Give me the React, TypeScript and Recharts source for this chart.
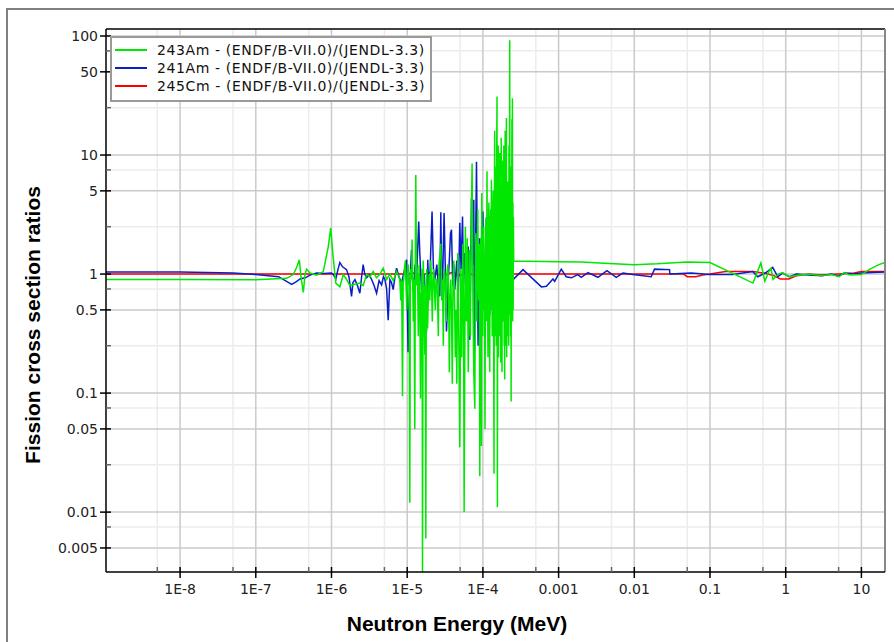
import { LineChart, Line, XAxis, YAxis, CartesianGrid, ReferenceLine, Label } from 'recharts'

const W = 894
const H = 642
const Y_AXIS_W = 60
const X_AXIS_H = 40
const MARGIN = { top: 29, right: 9, bottom: 30, left: 46 }
const PLOT_L = MARGIN.left + Y_AXIS_W
const PLOT_B = H - MARGIN.bottom - X_AXIS_H

const X_DOMAIN = [1.05e-9, 20.5]
const Y_DOMAIN = [0.00314, 114.5]

const X_MAJOR = [1e-8, 1e-7, 1e-6, 1e-5, 1e-4, 0.001, 0.01, 0.1, 1, 10]
const X_LABELS = ['1E-8', '1E-7', '1E-6', '1E-5', '1E-4', '0.001', '0.01', '0.1', '1', '10']
const X_MINOR = [5e-9, 5e-8, 5e-7, 5e-6, 5e-5, 5e-4, 0.005, 0.05, 0.5, 5]
const Y_MAJOR = [100, 50, 10, 5, 1, 0.5, 0.1, 0.05, 0.01, 0.005]
const Y_LABELS = ['100', '50', '10', '5', '1', '0.5', '0.1', '0.05', '0.01', '0.005']
const Y_MINOR = [75, 25, 7.5, 2.5, 0.75, 0.25, 0.075, 0.025, 0.0075]

const SERIES_NAMES = [
  '243Am - (ENDF/B-VII.0)/(JENDL-3.3)',
  '241Am - (ENDF/B-VII.0)/(JENDL-3.3)',
  '245Cm - (ENDF/B-VII.0)/(JENDL-3.3)',
]
const SERIES_COLORS = ['#00e800', '#0a1ec4', '#ff0000']

// [energy MeV, ratio]
const AM243: [number, number][] = [
  [1.05e-9, 0.9], [1e-8, 0.9], [1e-7, 0.895], [2.56e-7, 0.92], [3.13e-7, 0.99], [3.47e-7, 1.14],
  [3.76e-7, 1.32], [3.95e-7, 0.95], [4.24e-7, 0.7], [4.47e-7, 1.0], [4.7e-7, 1.1], [5.2e-7, 1.02],
  [6.37e-7, 0.98], [7.79e-7, 1.05], [9.07e-7, 1.7], [9.76e-7, 2.44], [1.05e-6, 1.4], [1.14e-6, 0.84],
  [1.29e-6, 0.78], [1.43e-6, 0.99], [1.58e-6, 0.9], [1.75e-6, 0.8], [2.04e-6, 0.82], [2.37e-6, 0.84],
  [2.62e-6, 0.8], [2.91e-6, 0.99], [3.22e-6, 0.95], [3.56e-6, 1.05], [3.94e-6, 0.93], [4.36e-6, 1.0],
  [4.82e-6, 1.12], [5.35e-6, 0.9], [5.91e-6, 1.0], [6.53e-6, 0.88], [7.24e-6, 1.05], [7.98e-6, 0.9],
  [8.23e-6, 0.6], [8.45e-6, 0.9], [8.67e-6, 0.094], [8.85e-6, 0.85], [9.02e-6, 0.9], [9.25e-6, 1.15],
  [9.44e-6, 1.3], [9.65e-6, 0.8], [9.88e-6, 0.5], [1.01e-5, 1.0], [1.034e-5, 1.2], [1.06e-5, 0.7],
  [1.082e-5, 0.012], [1.1e-5, 0.8], [1.116e-5, 1.1], [1.14e-5, 0.9], [1.161e-5, 1.95], [1.18e-5, 1.0],
  [1.204e-5, 0.4], [1.23e-5, 0.9], [1.26e-5, 0.05], [1.28e-5, 1.2], [1.299e-5, 6.8], [1.32e-5, 1.5],
  [1.339e-5, 0.8], [1.37e-5, 1.0], [1.402e-5, 0.3], [1.435e-5, 1.2], [1.467e-5, 0.7], [1.499e-5, 0.09],
  [1.525e-5, 0.7], [1.55e-5, 0.6], [1.575e-5, 1.1], [1.593e-5, 0.0031], [1.625e-5, 1.3], [1.657e-5, 0.9],
  [1.708e-5, 0.21], [1.735e-5, 0.8], [1.761e-5, 0.006], [1.79e-5, 0.9], [1.815e-5, 1.1], [1.86e-5, 0.35],
  [1.9e-5, 0.6], [1.95e-5, 1.0], [1.989e-5, 0.6], [2.05e-5, 1.3], [2.1e-5, 0.8], [2.146e-5, 0.4],
  [2.2e-5, 1.0], [2.246e-5, 1.1], [2.3e-5, 0.7], [2.351e-5, 0.5], [2.4e-5, 0.9], [2.46e-5, 0.9],
  [2.52e-5, 0.6], [2.576e-5, 0.3], [2.63e-5, 1.2], [2.696e-5, 1.4], [2.78e-5, 1.8], [2.864e-5, 0.6],
  [2.93e-5, 0.9], [2.999e-5, 0.25], [3.07e-5, 1.1], [3.139e-5, 1.0], [3.21e-5, 0.7], [3.286e-5, 0.4],
  [3.36e-5, 1.0], [3.439e-5, 1.2], [3.52e-5, 0.8], [3.6e-5, 0.15], [3.68e-5, 0.6], [3.767e-5, 0.9],
  [3.85e-5, 0.5], [3.943e-5, 0.12], [4.03e-5, 0.9], [4.127e-5, 1.3], [4.22e-5, 0.6], [4.32e-5, 0.2],
  [4.42e-5, 0.5], [4.52e-5, 0.12], [4.66e-5, 1.5], [4.8e-5, 0.3], [4.95e-5, 0.035], [5.11e-5, 1.1],
  [5.26e-5, 0.2], [5.43e-5, 1.8], [5.55e-5, 0.6], [5.65e-5, 0.01], [5.86e-5, 2.5], [6.07e-5, 0.4],
  [6.22e-5, 2.0], [6.41e-5, 0.15], [6.61e-5, 1.6], [6.82e-5, 0.3], [7.03e-5, 3.0], [7.2e-5, 8.5],
  [7.4e-5, 0.5], [7.58e-5, 0.15], [7.82e-5, 0.074], [7.95e-5, 1.0], [8.06e-5, 2.2], [8.31e-5, 0.4],
  [8.45e-5, 1.5], [8.56e-5, 3.5], [8.7e-5, 0.9], [8.83e-5, 0.6], [8.97e-5, 1.8], [9.1e-5, 0.02],
  [9.25e-5, 1.3], [9.38e-5, 2.0], [9.5e-5, 0.8], [9.58e-5, 0.036], [9.67e-5, 4.8], [9.8e-5, 1.2],
  [9.97e-5, 0.3], [1.012e-4, 1.6], [1.025e-4, 2.5], [1.04e-4, 0.5], [1.052e-4, 1.2], [1.066e-4, 0.05],
  [1.08e-4, 1.4], [1.099e-4, 3.0], [1.115e-4, 0.4], [1.133e-4, 7.3], [1.15e-4, 0.8], [1.168e-4, 0.2],
  [1.185e-4, 2.0], [1.2e-4, 4.0], [1.215e-4, 0.6], [1.23e-4, 0.15], [1.248e-4, 2.4], [1.268e-4, 3.5],
  [1.282e-4, 0.5], [1.295e-4, 6.2], [1.31e-4, 1.0], [1.327e-4, 0.3], [1.345e-4, 2.8], [1.368e-4, 5.0],
  [1.385e-4, 0.4], [1.402e-4, 0.021], [1.417e-4, 3.2], [1.432e-4, 16], [1.447e-4, 0.6], [1.467e-4, 0.3],
  [1.482e-4, 8], [1.499e-4, 0.25], [1.515e-4, 5.5], [1.536e-4, 31], [1.554e-4, 0.011], [1.573e-4, 4.5],
  [1.593e-4, 12], [1.61e-4, 0.2], [1.627e-4, 6], [1.645e-4, 0.35], [1.667e-4, 10.4], [1.688e-4, 0.3],
  [1.708e-4, 7], [1.725e-4, 0.18], [1.745e-4, 14], [1.766e-4, 0.4], [1.788e-4, 0.15], [1.806e-4, 9],
  [1.826e-4, 0.5], [1.848e-4, 6.5], [1.871e-4, 0.4], [1.89e-4, 12], [1.911e-4, 0.25], [1.926e-4, 5],
  [1.941e-4, 0.13], [1.955e-4, 7], [1.97e-4, 16], [1.99e-4, 0.25], [2.013e-4, 9], [2.03e-4, 0.35],
  [2.044e-4, 20.5], [2.065e-4, 0.2], [2.087e-4, 4.5], [2.105e-4, 0.3], [2.126e-4, 6], [2.15e-4, 0.3],
  [2.172e-4, 4], [2.19e-4, 0.25], [2.212e-4, 12], [2.235e-4, 0.5], [2.26e-4, 92], [2.277e-4, 0.45],
  [2.294e-4, 3.5], [2.32e-4, 0.3], [2.344e-4, 8], [2.36e-4, 0.085], [2.379e-4, 5], [2.397e-4, 0.4],
  [2.416e-4, 20], [2.435e-4, 0.6], [2.453e-4, 30], [2.47e-4, 0.4], [2.491e-4, 4], [2.51e-4, 0.5],
  [2.529e-4, 3], [2.552e-4, 1.28], [4e-4, 1.28], [1e-3, 1.27], [2e-3, 1.26], [4e-3, 1.23],
  [1e-2, 1.2], [2e-2, 1.22], [3e-2, 1.24], [5e-2, 1.26], [0.1, 1.25], [0.37, 0.84], [0.47, 1.24],
  [0.53, 0.87], [0.6, 1.05], [0.64, 1.12], [0.68, 0.9], [0.8, 1.0], [0.91, 1.03], [1.1, 0.95],
  [1.5, 0.98], [2, 1.0], [3, 0.97], [4, 0.99], [5.1, 0.95], [5.9, 1.03], [7, 0.98], [10, 0.99],
  [13, 1.1], [17, 1.2], [20.5, 1.25],
]

const AM241: [number, number][] = [
  [1.05e-9, 1.04], [1e-8, 1.04], [5e-8, 1.02], [1e-7, 0.99], [2e-7, 0.95], [2.98e-7, 0.82],
  [3.4e-7, 0.86], [3.84e-7, 0.91], [4.5e-7, 0.93], [5.2e-7, 0.98], [6.37e-7, 1.02], [8e-7, 1.01],
  [1e-6, 1.02], [1.07e-6, 0.98], [1.14e-6, 0.91], [1.22e-6, 1.1], [1.29e-6, 1.25], [1.4e-6, 1.15],
  [1.58e-6, 1.09], [1.7e-6, 0.95], [1.84e-6, 0.65], [1.92e-6, 0.85], [2.04e-6, 0.9], [2.2e-6, 0.8],
  [2.37e-6, 0.69], [2.5e-6, 0.95], [2.62e-6, 1.2], [2.75e-6, 1.0], [2.91e-6, 0.93], [3.15e-6, 0.98],
  [3.39e-6, 0.9], [3.65e-6, 0.8], [3.94e-6, 0.69], [4.25e-6, 0.88], [4.59e-6, 0.81], [4.85e-6, 0.95],
  [5.08e-6, 0.9], [5.35e-6, 0.75], [5.61e-6, 0.41], [5.91e-6, 0.9], [6.2e-6, 0.85], [6.53e-6, 0.74],
  [6.9e-6, 0.95], [7.24e-6, 1.12], [7.8e-6, 0.95], [8.43e-6, 0.84], [9.1e-6, 1.05], [9.82e-6, 1.32],
  [1.028e-5, 0.22], [1.06e-5, 0.6], [1.14e-5, 1.6], [1.18e-5, 0.85], [1.22e-5, 0.7], [1.27e-5, 1.2],
  [1.327e-5, 0.9], [1.42e-5, 2.76], [1.467e-5, 1.5], [1.536e-5, 0.8], [1.593e-5, 0.47], [1.68e-5, 1.0],
  [1.8e-5, 0.33], [1.87e-5, 1.32], [1.93e-5, 0.7], [1.989e-5, 0.9], [2.13e-5, 3.35], [2.22e-5, 1.1],
  [2.315e-5, 0.9], [2.46e-5, 1.2], [2.58e-5, 0.8], [2.696e-5, 0.65], [2.78e-5, 3.3], [2.87e-5, 0.7],
  [2.953e-5, 1.0], [3.07e-5, 3.25], [3.19e-5, 1.1], [3.305e-5, 0.33], [3.49e-5, 0.9], [3.62e-5, 1.4],
  [3.73e-5, 2.2], [3.85e-5, 2.36], [4.0e-5, 0.8], [4.12e-5, 1.2], [4.25e-5, 0.74], [4.52e-5, 1.3],
  [4.72e-5, 0.6], [4.95e-5, 2.7], [5.15e-5, 1.1], [5.38e-5, 3.05], [5.55e-5, 0.79], [5.77e-5, 1.5],
  [6.13e-5, 0.9], [6.4e-5, 1.7], [6.71e-5, 0.28], [7.07e-5, 4.35], [7.36e-5, 1.2], [7.58e-5, 4.2],
  [7.72e-5, 0.22], [8.0e-5, 1.6], [8.23e-5, 8.8], [8.64e-5, 0.25], [8.96e-5, 2.0], [9.38e-5, 0.6],
  [9.67e-5, 3.15], [9.85e-5, 0.9], [1.0e-4, 3.35], [1.028e-4, 0.6], [1.056e-4, 0.8], [1.085e-4, 1.8],
  [1.112e-4, 2.86], [1.135e-4, 0.5], [1.157e-4, 0.7], [1.19e-4, 1.4], [1.23e-4, 0.45], [1.245e-4, 2.8],
  [1.268e-4, 1.5], [1.295e-4, 0.7], [1.318e-4, 2.2], [1.35e-4, 0.6], [1.389e-4, 1.6], [1.43e-4, 0.5],
  [1.476e-4, 1.8], [1.52e-4, 0.7], [1.569e-4, 0.4], [1.61e-4, 1.4], [1.667e-4, 2.5], [1.72e-4, 0.6],
  [1.771e-4, 0.7], [1.83e-4, 1.3], [1.883e-4, 1.6], [1.94e-4, 0.6], [2.0e-4, 0.5], [2.06e-4, 1.1],
  [2.126e-4, 1.2], [2.19e-4, 0.7], [2.26e-4, 0.8], [2.33e-4, 1.2], [2.4e-4, 1.0], [2.47e-4, 0.89],
  [3.39e-4, 1.09], [5.93e-4, 0.78], [6.9e-4, 0.79], [8.43e-4, 0.91], [8.88e-4, 0.87], [1.085e-3, 1.1],
  [1.26e-3, 0.95], [1.47e-3, 0.93], [1.8e-3, 0.99], [1.99e-3, 0.94], [2.44e-3, 1.03], [3.31e-3, 0.94],
  [4.35e-3, 1.07], [5.78e-3, 0.94], [7.07e-3, 1.02], [9.58e-3, 0.99], [1.67e-2, 0.95], [1.85e-2, 1.1],
  [2.92e-2, 1.09], [2.95e-2, 1.0], [5.65e-2, 1.02], [9.85e-2, 0.99], [0.2, 0.99], [0.366, 1.05],
  [0.427, 0.95], [0.55, 1.03], [0.673, 1.14], [0.784, 0.95], [0.912, 1.02], [1.116, 0.95], [1.4, 1.0],
  [2, 0.98], [3, 0.97], [4, 1.0], [5, 0.96], [6, 1.02], [8, 1.0], [10, 1.02], [14, 1.03], [20.5, 1.04],
]

const CM245: [number, number][] = [
  [1.05e-9, 1.0], [1e-5, 1.0], [1.2e-5, 1.02], [1.5e-5, 0.98], [2e-5, 1.03], [3e-5, 0.97],
  [4e-5, 1.04], [5e-5, 0.97], [6e-5, 1.05], [8e-5, 0.96], [1e-4, 1.04], [1.3e-4, 0.96],
  [1.6e-4, 1.05], [2e-4, 0.97], [2.5e-4, 1.0], [0.045, 1.0], [0.05, 0.95], [0.065, 0.95],
  [0.08, 0.98], [0.1, 1.0], [0.16, 1.05], [0.37, 1.05], [0.5, 1.02], [0.7, 0.97], [0.85, 0.91],
  [1.1, 0.91], [1.4, 0.97], [2, 1.0], [3, 0.98], [5, 1.0], [8, 1.02], [10, 1.05], [20.5, 1.05],
]

const rows = (pts: [number, number][]) => pts.map(([e, r]) => ({ e, r }))
const SERIES = [rows(AM243), rows(AM241), rows(CM245)]

const TICK_FONT = { fontFamily: 'DejaVu Sans, sans-serif', fontSize: 14, fill: '#222' }
const TITLE_FONT = { fontFamily: 'Liberation Sans, Arial, sans-serif', fontSize: 21, fontWeight: 700, fill: '#000' }

function XTick(props: any) {
  const { x, payload } = props
  const i = X_MAJOR.indexOf(payload.value)
  const major = i >= 0
  return (
    <g>
      <line x1={x} x2={x} y1={PLOT_B - 5} y2={major ? PLOT_B + 6 : PLOT_B} stroke={major ? '#000' : '#666'} strokeWidth={1.5} />
      {major && (
        <text x={x} y={PLOT_B + 22} textAnchor="middle" {...TICK_FONT}>{X_LABELS[i]}</text>
      )}
    </g>
  )
}

function YTick(props: any) {
  const { y, payload } = props
  const i = Y_MAJOR.indexOf(payload.value)
  const major = i >= 0
  return (
    <g>
      <line x1={major ? PLOT_L - 6 : PLOT_L} x2={PLOT_L + 5} y1={y} y2={y} stroke={major ? '#000' : '#666'} strokeWidth={1.5} />
      {major && (
        <text x={PLOT_L - 8} y={y} dy="0.36em" textAnchor="end" {...TICK_FONT}>{Y_LABELS[i]}</text>
      )}
    </g>
  )
}

function ChartLegend() {
  return (
    <div style={{
      position: 'absolute', left: 110, top: 36, width: 318, height: 59,
      border: '2px solid #9a9a9a', background: '#fff', padding: '3px 0 0 0',
      fontFamily: 'DejaVu Sans, sans-serif', fontSize: 14, color: '#111', letterSpacing: 0.6,
    }}>
      {SERIES_NAMES.map((name, i) => (
        <div key={name} style={{ display: 'flex', alignItems: 'center', height: 18 }}>
          <span style={{ display: 'inline-block', width: 32, height: 2, marginLeft: 3, marginRight: 10, background: SERIES_COLORS[i] }} />
          <span style={{ whiteSpace: 'nowrap' }}>{name}</span>
        </div>
      ))}
    </div>
  )
}

export default function App() {
  const xTicks = [...X_MINOR, ...X_MAJOR].sort((a, b) => a - b)
  const yTicks = [...Y_MINOR, ...Y_MAJOR].sort((a, b) => a - b)
  // draw order: 245Cm underneath, 243Am on top
  const order = [2, 1, 0]

  return (
    <div style={{ position: 'absolute', left: 0, top: 0, width: W, height: H, overflow: 'hidden', background: '#fff' }}>
      <div style={{ position: 'absolute', left: 6, top: 8, width: 2000, height: 2000, borderLeft: '2px solid #808080', borderTop: '2px solid #808080' }} />
      <LineChart width={W} height={H} margin={MARGIN}>
        <CartesianGrid stroke="#ececec" strokeWidth={1.5} verticalValues={X_MINOR} horizontalValues={Y_MINOR} />
        <CartesianGrid stroke="#cacaca" strokeWidth={1.5} verticalValues={X_MAJOR} horizontalValues={Y_MAJOR} />
        <XAxis
          dataKey="e" type="number" scale="log" domain={X_DOMAIN} allowDataOverflow
          ticks={xTicks} interval={0} height={X_AXIS_H} tickLine={false}
          axisLine={{ stroke: '#000', strokeWidth: 1.5 }}
          tick={(p: any) => <XTick key={p.index} {...p} />}
        >
          <Label content={() => (
            <text x={457} y={631} textAnchor="middle" {...TITLE_FONT}>Neutron Energy (MeV)</text>
          )} />
        </XAxis>
        <YAxis
          dataKey="r" type="number" scale="log" domain={Y_DOMAIN} allowDataOverflow
          ticks={yTicks} interval={0} width={Y_AXIS_W} tickLine={false}
          axisLine={{ stroke: '#000', strokeWidth: 1.5 }}
          tick={(p: any) => <YTick key={p.index} {...p} />}
        >
          <Label content={() => (
            <text x={40} y={325} transform="rotate(-90 40 325)" textAnchor="middle" {...TITLE_FONT}>Fission cross section ratios</text>
          )} />
        </YAxis>
        {order.map(i => (
          <Line
            key={SERIES_NAMES[i]} data={SERIES[i]} dataKey="r" name={SERIES_NAMES[i]}
            stroke={SERIES_COLORS[i]} strokeWidth={1.5} dot={false} activeDot={false}
            type="linear" isAnimationActive={false}
          />
        ))}
        <ReferenceLine y={Y_DOMAIN[1]} stroke="#000" strokeWidth={1.5} />
        <ReferenceLine x={X_DOMAIN[1]} stroke="#888" strokeWidth={2} />
      </LineChart>
      <ChartLegend />
    </div>
  )
}
